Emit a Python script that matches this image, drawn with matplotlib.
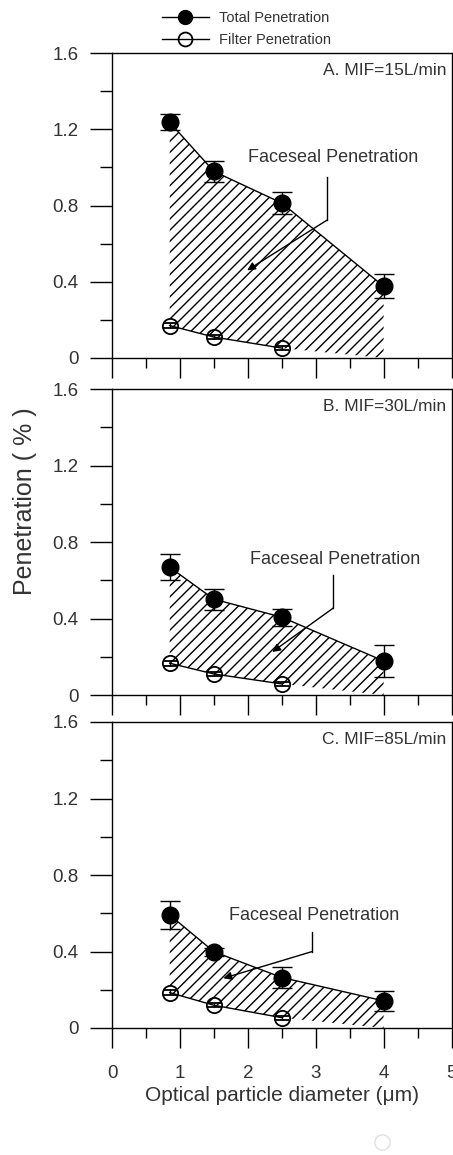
import numpy as np
import matplotlib.pyplot as plt
from matplotlib.lines import Line2D

plt.rcParams['font.family'] = ['Liberation Sans', 'DejaVu Sans']

# particle sizes (um)
diam = [0.85, 1.5, 2.5, 4.0]
filter_diam = [0.85, 1.5, 2.5]

panel_labels = ['A. MIF=15L/min', 'B. MIF=30L/min', 'C. MIF=85L/min']

total_a = [1.236, 0.979, 0.813, 0.376]
total_a_err = [0.042, 0.057, 0.056, 0.063]
total_b = [0.668, 0.501, 0.407, 0.178]
total_b_err = [0.068, 0.054, 0.044, 0.084]
total_c = [0.591, 0.399, 0.264, 0.142]
total_c_err = [0.072, 0.02, 0.055, 0.054]

filter_a = [0.170, 0.110, 0.052]
filter_b = [0.166, 0.110, 0.058]
filter_c = [0.185, 0.119, 0.054]
filter_err = [0.012, 0.01, 0.01]

# lower edge of the hatched faceseal region at the largest size
floor_end = 0.0

x_major = [0, 1, 2, 3, 4, 5]
x_minor = [0.5, 1.5, 2.5, 3.5, 4.5]
x_labels = ['0', '1', '2', '3', '4', '5']
y_major = [0, 0.4, 0.8, 1.2, 1.6]
y_minor = [0.2, 0.6, 1.0, 1.4]
y_labels = ['0', '0.4', '0.8', '1.2', '1.6']

totals = [total_a, total_b, total_c]
total_errs = [total_a_err, total_b_err, total_c_err]
filters = [filter_a, filter_b, filter_c]

# text position, elbow top, elbow corner, arrow head (data coords)
notes = [
    ((3.26, 1.054), (3.17, 0.95), (3.17, 0.724), (1.99, 0.46)),
    ((3.29, 0.711), (3.26, 0.627), (3.26, 0.455), (2.36, 0.225)),
    ((2.97, 0.590), (2.95, 0.500), (2.95, 0.400), (1.64, 0.260)),
]

fig = plt.figure(figsize=(4.53, 11.55), dpi=100)
W, H = 453.0, 1155.0
tops = [53, 389, 722]
bottoms = [358, 695, 1028]
left, right = 112, 451.5

txt_col = '#333333'
axes = []
for i in range(3):
    ax = fig.add_axes([left / W, 1 - bottoms[i] / H, (right - left) / W,
                       (bottoms[i] - tops[i]) / H])
    axes.append(ax)
    tot = totals[i]
    fil = filters[i]
    low = list(fil) + [floor_end]
    ax.fill_between(diam, low, tot, facecolor='none', edgecolor='black',
                    hatch='///', linewidth=0)
    ax.errorbar(diam, tot, yerr=total_errs[i], fmt='-o', color='black',
                markersize=12, linewidth=1.0, capsize=7, elinewidth=1.0,
                capthick=1.0, zorder=4)
    ax.errorbar(filter_diam, fil, yerr=filter_err, fmt='-o', color='black',
                markerfacecolor='none', markersize=11, linewidth=1.0,
                markeredgewidth=1.3, capsize=5, elinewidth=1.0, zorder=4)
    (tx, ty), p1, p2, p3 = notes[i]
    ax.text(tx, ty, 'Faceseal Penetration', ha='center', va='center',
            fontsize=13, color=txt_col)
    ax.plot([p1[0], p2[0]], [p1[1], p2[1]], color='black', linewidth=1.0)
    ax.annotate('', xy=p3, xytext=p2,
                arrowprops=dict(arrowstyle='-|>', color='black', lw=1.0,
                                mutation_scale=12, shrinkA=0, shrinkB=0))
    ax.text(0.985, 0.944, panel_labels[i], transform=ax.transAxes,
            ha='right', va='center', fontsize=12.5, color=txt_col)

    ax.set_xlim(0, 5)
    ax.set_ylim(0, 1.6)
    ax.set_xticks(x_major)
    ax.set_xticks(x_minor, minor=True)
    ax.set_yticks(y_major, y_labels)
    ax.set_yticks(y_minor, minor=True)
    ax.tick_params(axis='y', which='major', direction='out', length=16,
                   width=1.0, labelsize=13.5, labelcolor=txt_col, pad=8)
    ax.tick_params(axis='y', which='minor', direction='out', length=8.5,
                   width=1.0)
    ax.tick_params(axis='x', which='major', direction='out', length=14.5,
                   width=1.0, labelsize=13.5, labelcolor=txt_col, pad=12)
    ax.tick_params(axis='x', which='minor', direction='out', length=7,
                   width=1.0)
    if i < 2:
        ax.set_xticklabels([])
    else:
        ax.set_xticklabels(x_labels)
    for s in ax.spines.values():
        s.set_linewidth(1.0)

axes[2].set_xlabel('Optical particle diameter (\u03bcm)', fontsize=15,
                   color=txt_col, labelpad=3)
fig.text(25 / W, 1 - 501 / H, 'Penetration ( % )', rotation=90,
         ha='center', va='center', fontsize=18, color=txt_col)

handles = [
    Line2D([], [], color='black', marker='o', markersize=10, linewidth=1.0),
    Line2D([], [], color='black', marker='o', markersize=10, linewidth=1.0,
           markerfacecolor='none', markeredgewidth=1.3),
]
fig.legend(handles, ['Total Penetration', 'Filter Penetration'],
           loc='center left', bbox_to_anchor=(162 / W, 1 - 29 / H),
           frameon=False, fontsize=10.5, handlelength=3.2,
           handletextpad=0.7, labelspacing=0.5, borderpad=0,
           borderaxespad=0, labelcolor=txt_col)

# faint stray circle seen at the bottom of the scan
fig.add_artist(Line2D([382 / W], [1 - 1142 / H], marker='o', markersize=11,
                      markerfacecolor='none', markeredgecolor='#e0e0e0',
                      linestyle='none', transform=fig.transFigure))

fig.savefig('out.png', dpi=100)
